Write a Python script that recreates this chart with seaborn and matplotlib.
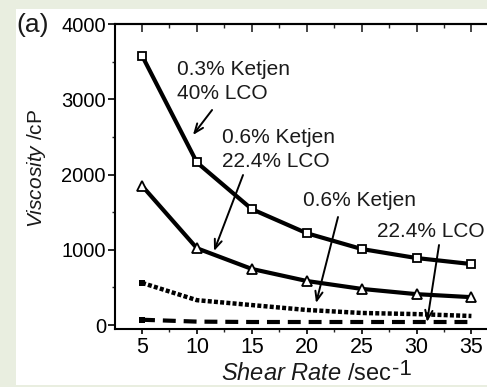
import numpy as np
import pandas as pd
import matplotlib
matplotlib.use("Agg")
import matplotlib.pyplot as plt
from matplotlib.patches import Rectangle
from matplotlib.ticker import MultipleLocator
import seaborn as sns

# ---- data ----
shear_rate = [5, 10, 15, 20, 25, 30, 35]
visc_03k_40lco = [3580, 2160, 1540, 1220, 1010, 890, 810]
visc_06k_224lco = [1850, 1020, 745, 585, 480, 410, 370]
visc_06k = [560, 330, 265, 200, 160, 145, 120]
visc_224lco = [70, 45, 40, 40, 40, 40, 40]

x_ticks = [5, 10, 15, 20, 25, 30, 35]
y_ticks = [0, 1000, 2000, 3000, 4000]

ann_texts = ["0.3% Ketjen", "40% LCO", "0.6% Ketjen", "22.4% LCO", "0.6% Ketjen", "22.4% LCO"]

sns.set_theme(style="ticks")
plt.rcParams['font.family'] = ['Liberation Sans', 'DejaVu Sans']
plt.rcParams['mathtext.fontset'] = 'custom'
plt.rcParams['mathtext.rm'] = 'Liberation Sans'
plt.rcParams['mathtext.it'] = 'Liberation Sans:italic'

W, H = 487, 387
bg = '#e9eee0'
fig = plt.figure(figsize=(W / 100, H / 100), dpi=100)
fig.patch.set_facecolor(bg)
fig.add_artist(Rectangle((16 / W, 2 / H), 471 / W, 376 / H, transform=fig.transFigure,
                         facecolor='white', edgecolor='none', zorder=0))

ax = fig.add_axes([115 / W, 58 / H, 372 / W, 305 / H])
ax.set_facecolor('white')

df1 = pd.DataFrame({'x': shear_rate, 'y': visc_03k_40lco})
df2 = pd.DataFrame({'x': shear_rate, 'y': visc_06k_224lco})
df3 = pd.DataFrame({'x': shear_rate, 'y': visc_06k})
df4 = pd.DataFrame({'x': shear_rate, 'y': visc_224lco})

sns.lineplot(data=df1, x='x', y='y', ax=ax, color='black', lw=3.0, marker='s', markersize=6,
             markerfacecolor='white', markeredgecolor='black', markeredgewidth=1.3, zorder=3)
sns.lineplot(data=df2, x='x', y='y', ax=ax, color='black', lw=3.0, marker='^', markersize=7.5,
             markerfacecolor='white', markeredgecolor='black', markeredgewidth=1.3, zorder=3)
l3 = sns.lineplot(data=df3, x='x', y='y', ax=ax, color='black', lw=3.2, marker='s', markersize=4,
                  markeredgewidth=0, markevery=[0], zorder=3).lines[-1]
l3.set_dashes((0.9, 0.5))
l3.set_dash_capstyle('butt')
l4 = sns.lineplot(data=df4, x='x', y='y', ax=ax, color='black', lw=3.0, marker='s', markersize=4,
                  markeredgewidth=0, markevery=[0], zorder=3).lines[-1]
l4.set_dashes((3.1, 1.9))
l4.set_dash_capstyle('butt')

ax.set_xlim(2.54, 36.42)
ax.set_ylim(-53, 4000)
ax.set_xticks(x_ticks)
ax.set_yticks(y_ticks)
ax.xaxis.set_minor_locator(MultipleLocator(2.5))
ax.yaxis.set_minor_locator(MultipleLocator(500))
ax.set_xlabel('')
ax.set_ylabel('')
ax.spines['right'].set_visible(False)
for s in ['left', 'top', 'bottom']:
    ax.spines[s].set_linewidth(1.5)
    ax.spines[s].set_color('black')
ax.tick_params(axis='x', which='major', direction='out', length=3.5, width=1.2, labelsize=15.5, pad=2.5,
               colors='black')
ax.tick_params(axis='x', which='minor', direction='out', length=2.5, width=1.0)
ax.tick_params(axis='y', which='major', direction='out', length=5, width=1.2, labelsize=14.5, pad=1.5,
               colors='black')
ax.tick_params(axis='y', which='minor', direction='out', length=2.5, width=1.0)

sec = ax.secondary_xaxis('top')
sec.set_xticks(x_ticks)
sec.xaxis.set_minor_locator(MultipleLocator(2.5))
sec.tick_params(which='major', direction='in', length=6, width=1.2, labeltop=False)
sec.tick_params(which='minor', direction='in', length=3, width=1.0)
sec.spines['top'].set_linewidth(1.5)

# annotations
txt_kw = dict(fontsize=15, color='#1a1a1a', ha='left', va='baseline')
ax.text(8.19, 3322, ann_texts[0], **txt_kw)
ax.text(8.19, 3003, ann_texts[1], **txt_kw)
ax.text(12.29, 2419, ann_texts[2], **txt_kw)
ax.text(12.29, 2100, ann_texts[3], **txt_kw)
ax.text(19.66, 1581, ann_texts[4], **txt_kw)
ax.text(26.40, 1169, ann_texts[5], **txt_kw)

arr = dict(arrowstyle='->,head_length=0.55,head_width=0.22', color='black', lw=1.4,
           shrinkA=0, shrinkB=0)
ax.annotate('', xy=(9.64, 2525), xytext=(11.38, 2857), arrowprops=arr)
ax.annotate('', xy=(11.56, 983), xytext=(14.20, 1993), arrowprops=arr)
ax.annotate('', xy=(20.85, 292), xytext=(22.85, 1435), arrowprops=arr)
ax.annotate('', xy=(30.96, 40), xytext=(32.05, 1063), arrowprops=arr)

# panel label and axis labels
fig.text(16 / W, (H - 32) / H, '(a)', fontsize=19, ha='left', va='baseline', color='#1a1a1a')
xl = fig.text(221 / W, (H - 380) / H, r'$\mathit{Shear\ Rate}$ /sec', fontsize=17,
              ha='left', va='baseline', color='#1a1a1a')
ax.annotate('-1', xy=(1, 1), xycoords=xl, xytext=(0.5, 3), textcoords='offset points',
            ha='left', va='top', fontsize=16, color='#1a1a1a', annotation_clip=False)
fig.text(36 / W, (H - 168) / H, r'$\mathit{Viscosity}$ /cP', fontsize=15, rotation=90,
         ha='center', va='center', color='#1a1a1a')

fig.savefig('out.png', dpi=100, facecolor=bg)
